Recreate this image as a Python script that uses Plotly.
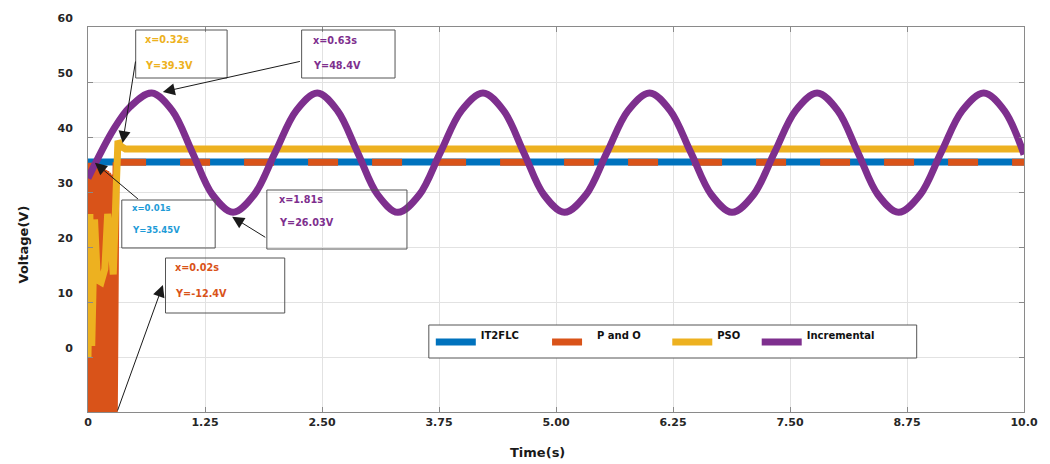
import plotly.graph_objects as go

# ---------------- data ----------------
t_it2flc = [0.00, 0.01, 10.0]
v_it2flc = [0.0, 35.45, 35.45]

t_po = [0.00, 0.01, 0.02, 0.03, 0.04, 0.05, 0.06, 0.07, 0.08, 0.09, 0.10,
        0.11, 0.12, 0.13, 0.14, 0.15, 0.16, 0.17, 0.18, 0.19, 0.20, 0.21,
        0.22, 0.23, 0.24, 0.25, 0.26, 0.27, 0.28, 0.29, 0.30, 10.0]
v_po = [0.0, 35.3, -12.4, 35.3, -12.4, 35.0, -12.4, 35.0, -12.4, 34.8, -12.4,
        34.6, -12.4, 34.5, -12.4, 34.2, -12.4, 34.0, -12.4, 33.8, -12.4, 33.5,
        -12.4, 33.2, -12.4, 33.0, -12.4, 32.8, -12.4, 32.5, 35.4, 35.4]

t_pso = [0.00, 0.02, 0.04, 0.07, 0.10, 0.14, 0.18, 0.21, 0.24, 0.27, 0.30,
         0.32, 0.35, 0.40, 10.0]
v_pso = [0.0, 26.0, 2.0, 25.0, 14.0, 13.6, 16.0, 26.0, 22.0, 15.0, 30.0,
         39.3, 38.3, 37.8, 37.8]

t_inc = [0.00, 0.27, 0.45, 0.68, 0.90, 1.115, 1.33, 1.55, 1.775, 2.00, 2.225,
         2.45, 2.665, 2.88, 3.095, 3.31, 3.54, 3.765, 3.99, 4.22, 4.44, 4.655,
         4.87, 5.09, 5.32, 5.545, 5.77, 6.00, 6.22, 6.44, 6.66, 6.88, 7.11,
         7.335, 7.56, 7.79, 8.01, 8.225, 8.44, 8.66, 8.89, 9.115, 9.34, 9.57,
         9.79, 10.0]
v_inc = [32.5, 41.3, 45.5, 48.0, 44.8, 37.2, 29.5, 26.3, 29.5, 37.2, 44.8,
         48.0, 44.8, 37.2, 29.5, 26.3, 29.5, 37.2, 44.8, 48.0, 44.8, 37.2,
         29.5, 26.3, 29.5, 37.2, 44.8, 48.0, 44.8, 37.2, 29.5, 26.3, 29.5,
         37.2, 44.8, 48.0, 44.8, 37.2, 29.5, 26.3, 29.5, 37.2, 44.8, 48.0,
         44.8, 36.8]

x_tickvals = [0, 1.25, 2.5, 3.75, 5.0, 6.25, 7.5, 8.75, 10.0]
x_ticktext = ["0", "1.25", "2.50", "3.75", "5.00", "6.25", "7.50", "8.75", "10.0"]
y_tickvals = [0, 10, 20, 30, 40, 50, 60]

series_names = ["IT2FLC", "P and O", "PSO", "Incremental"]
series_colors = ["#0072BD", "#D95319", "#EDB120", "#7E2F8E"]

# ---------------- layout helpers (pixel -> paper) ----------------
W, H = 1050, 464
PL, PR, PT, PB = 88, 1030, 27, 412


def px(xp):
    return (xp - PL) / (PR - PL)


def py(yp):
    return (PB - yp) / (PB - PT)


FONT = "DejaVu Sans"
LW = 7
PO_DASH = "30px,34px"

fig = go.Figure()

# IT2FLC
fig.add_trace(go.Scatter(x=t_it2flc, y=v_it2flc, mode="lines",
                         line=dict(color=series_colors[0], width=LW),
                         name=series_names[0] + "<br> ", legend="legend",
                         showlegend=True))

# P and O : start-up transient (drawn solid) + steady state (dashed)
split = t_po.index(0.30)
fig.add_trace(go.Scatter(x=t_po[:split + 1], y=v_po[:split + 1], mode="lines",
                         line=dict(color=series_colors[1], width=LW),
                         showlegend=False, legend="legend2"))
fig.add_trace(go.Scatter(x=t_po[split:], y=v_po[split:], mode="lines",
                         line=dict(color=series_colors[1], width=LW,
                                   dash=PO_DASH),
                         name=series_names[1] + "<br> ", legend="legend2",
                         showlegend=True))

# PSO
fig.add_trace(go.Scatter(x=t_pso, y=v_pso, mode="lines",
                         line=dict(color=series_colors[2], width=LW),
                         name=series_names[2] + "<br> ", legend="legend3",
                         showlegend=True))

# Incremental
fig.add_trace(go.Scatter(x=t_inc, y=v_inc, mode="lines",
                         line=dict(color=series_colors[3], width=LW,
                                   shape="spline", smoothing=1.0),
                         name=series_names[3] + "<br> ", legend="legend4",
                         showlegend=True))

axis_common = dict(
    showline=True, mirror="ticks", linecolor="#8a8a8a", linewidth=1,
    ticks="inside", ticklen=5, tickcolor="#8a8a8a",
    showgrid=True, gridcolor="#e2e2e2", gridwidth=1, zeroline=False,
    tickfont=dict(family=FONT, size=11, color="#262626", weight="bold"),
)

fig.update_xaxes(range=[0, 10], tickvals=x_tickvals, ticktext=x_ticktext,
                 **axis_common)
fig.update_yaxes(range=[-10, 60], tickvals=y_tickvals,
                 ticklabelshift=-9, ticklabelstandoff=12, **axis_common)

# legends (one per entry so spacing matches the reference)
legend_ids = ["legend", "legend2", "legend3", "legend4"]
leg_x_pix = [433, 550, 671, 761]
leg_font = dict(family=FONT, size=10, color="#111111", weight="bold")
legend_layout = {}
for lid, xp in zip(legend_ids, leg_x_pix):
    legend_layout[lid] = dict(x=px(xp), y=py(342), xanchor="left",
                              yanchor="middle", xref="paper", yref="paper",
                              orientation="h", bgcolor="rgba(0,0,0,0)",
                              borderwidth=0, font=leg_font, itemwidth=40,
                              valign="middle", visible=True)

shapes = []
# legend box
shapes.append(dict(type="rect", xref="paper", yref="paper",
                   x0=px(431), x1=px(922), y0=py(358), y1=py(325),
                   line=dict(color="#555555", width=1), fillcolor="white",
                   layer="above"))

# annotation text boxes: (left, top, width, height)
boxes = [(136, 30, 92, 48), (303, 30, 94, 48), (122, 200, 94, 48),
         (268, 190, 141, 59), (166, 258, 120, 55)]
for (l, t, w, h) in boxes:
    shapes.append(dict(type="rect", xref="paper", yref="paper",
                       x0=px(l), x1=px(l + w), y0=py(t + h), y1=py(t),
                       line=dict(color="#555555", width=1),
                       fillcolor="rgba(0,0,0,0)", layer="above"))

annotations = []
# text lines inside boxes: (x_left_pix, y_center_pix, text, color, size)
box_texts = [
    (143, 39, "x=0.32s", series_colors[2], 9.7),
    (143, 65, "Y=39.3V", series_colors[2], 9.7),
    (312, 40, "x=0.63s", series_colors[3], 9.7),
    (312, 65, "Y=48.4V", series_colors[3], 9.7),
    (130, 208, "x=0.01s", "#1E9BD7", 8.5),
    (130, 230, "Y=35.45V", "#1E9BD7", 8.5),
    (278, 199, "x=1.81s", series_colors[3], 9.7),
    (278, 223, "Y=26.03V", series_colors[3], 9.7),
    (174, 267, "x=0.02s", series_colors[1], 9.7),
    (174, 293, "Y=-12.4V", series_colors[1], 9.7),
]
for (xl, yc, txt, col, sz) in box_texts:
    annotations.append(dict(x=px(xl), y=py(yc), xref="paper", yref="paper",
                            xanchor="left", yanchor="middle", text=txt,
                            showarrow=False,
                            font=dict(family=FONT, size=sz, color=col,
                                      weight="bold")))

# arrows: head (x, y) and tail (ax, ay) in data coordinates
arrows = [
    (0.37, 38.9, 0.51, 54.0),
    (0.80, 48.2, 2.28, 53.8),
    (0.074, 35.3, 0.55, 28.5),
    (1.54, 25.5, 1.91, 21.6),
    (0.80, 13.1, 0.31, -10.0),
]
for (x, y, ax, ay) in arrows:
    annotations.append(dict(x=x, y=y, ax=ax, ay=ay, xref="x", yref="y",
                            axref="x", ayref="y", text="", showarrow=True,
                            arrowhead=2, arrowsize=2.4, arrowwidth=1,
                            arrowcolor="#1a1a1a"))

# axis titles
annotations.append(dict(x=px(540), y=py(453), xref="paper", yref="paper",
                        text="Time(s)", showarrow=False, xanchor="center",
                        yanchor="middle",
                        font=dict(family=FONT, size=13, color="#1a1a1a",
                                  weight="bold")))
annotations.append(dict(x=px(23), y=py(244), xref="paper", yref="paper",
                        text="Voltage(V)", showarrow=False, textangle=-90,
                        xanchor="center", yanchor="middle",
                        font=dict(family=FONT, size=13, color="#1a1a1a",
                                  weight="bold")))

fig.update_layout(
    width=W, height=H,
    margin=dict(l=PL, r=W - PR, t=PT, b=H - PB),
    paper_bgcolor="white", plot_bgcolor="white",
    showlegend=True,
    shapes=shapes, annotations=annotations,
    **legend_layout,
)

fig.write_html("out.html")
